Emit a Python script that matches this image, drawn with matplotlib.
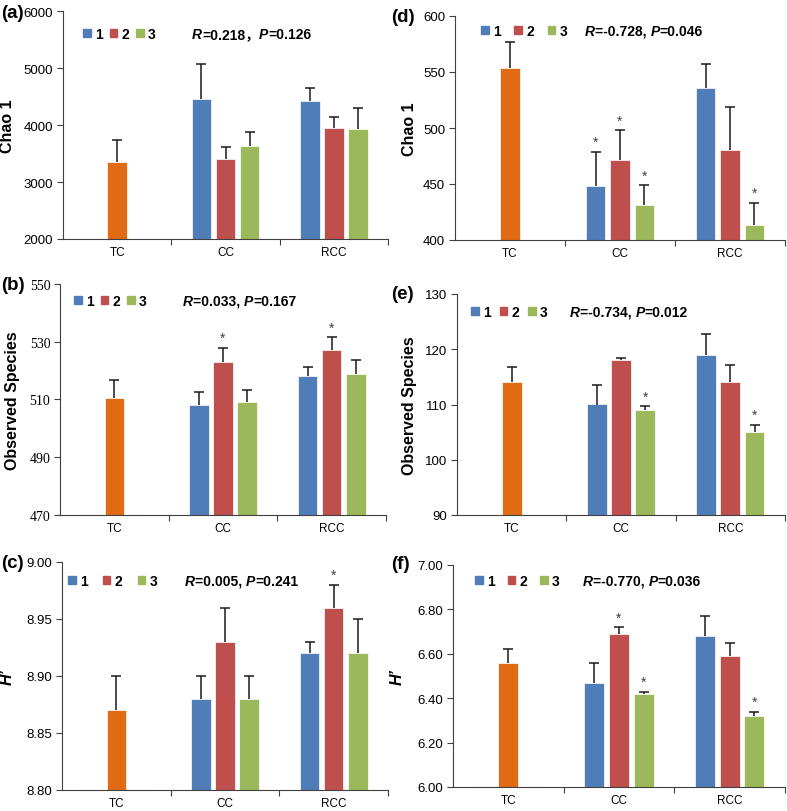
import matplotlib
matplotlib.use("Agg")
import matplotlib.pyplot as plt
from matplotlib.patches import Patch

W, H = 787, 812
BLUE = "#4F7DB8"
RED = "#BE4F4C"
GREEN = "#9BB85A"
ORANGE = "#E06B14"
SANS = "Liberation Sans"

categories = ["TC", "CC", "RCC"]

# (a) Chao 1, panel a
a_s1 = [None, 4450, 4425]
a_s2 = [3355, 3400, 3955]
a_s3 = [None, 3635, 3935]
a_e1 = [0, 615, 220]
a_e2 = [380, 215, 185]
a_e3 = [0, 250, 355]

# (d) Chao 1, panel d
d_s1 = [None, 448, 536]
d_s2 = [554, 471, 480]
d_s3 = [None, 431, 413]
d_e1 = [0, 31, 21]
d_e2 = [23, 27, 39]
d_e3 = [0, 18, 20]

# (b) Observed species
b_s1 = [470, 508, 518]
b_s2 = [510.5, 523, 527]
b_s3 = [470, 509, 519]
b_e1 = [0, 4.5, 3.2]
b_e2 = [6.2, 5, 4.5]
b_e3 = [0, 4.4, 4.7]

# (e) Observed species
e_s1 = [None, 110, 119]
e_s2 = [114, 118, 114]
e_s3 = [None, 109, 105]
e_e1 = [0, 3.6, 3.7]
e_e2 = [2.8, 0.5, 3.1]
e_e3 = [0, 0.7, 1.3]

# (c) H'
c_s1 = [8.80, 8.88, 8.92]
c_s2 = [8.87, 8.93, 8.96]
c_s3 = [8.80, 8.88, 8.92]
c_e1 = [0, 0.02, 0.01]
c_e2 = [0.03, 0.03, 0.02]
c_e3 = [0, 0.02, 0.03]

# (f) H'
f_s1 = [6.00, 6.47, 6.68]
f_s2 = [6.56, 6.69, 6.59]
f_s3 = [6.00, 6.42, 6.32]
f_e1 = [0, 0.09, 0.09]
f_e2 = [0.06, 0.03, 0.06]
f_e3 = [0, 0.01, 0.02]

panels = [
    dict(tag="(a)", ylabel="Chao 1", s=(a_s1, a_s2, a_s3), e=(a_e1, a_e2, a_e3),
         ylim=(2000, 6000), yticks=[2000, 3000, 4000, 5000, 6000], fmt="{:.0f}",
         stars=[], r="0.218", p="0.126", sep="\uff0c",
         box=(63, 12, 388, 240), lab=(1, 13), ylx=15, leg=(83, 35, 0.5), rp=(192, 35)),
    dict(tag="(b)", ylabel="Observed Species", s=(b_s1, b_s2, b_s3), e=(b_e1, b_e2, b_e3),
         ylim=(470, 550), yticks=[470, 490, 510, 530, 550], fmt="{:.0f}",
         stars=[(1, 1), (2, 1)], r="0.033", p="0.167", sep=", ",
         box=(60, 285, 386, 516), lab=(1, 286), ylx=20, leg=(74, 302, 0.5), rp=(183, 302),
         serif_ticks=True),
    dict(tag="(c)", ylabel="H\u2019", s=(c_s1, c_s2, c_s3), e=(c_e1, c_e2, c_e3),
         ylim=(8.80, 9.00), yticks=[8.80, 8.85, 8.90, 8.95, 9.00], fmt="{:.2f}",
         stars=[(2, 1)], r="0.005", p="0.241", sep=", ",
         box=(62, 563, 388, 791), lab=(1, 563), ylx=15, leg=(68, 582, 1.1), rp=(185, 582),
         italic_label=True),
    dict(tag="(d)", ylabel="Chao 1", s=(d_s1, d_s2, d_s3), e=(d_e1, d_e2, d_e3),
         ylim=(400, 600), yticks=[400, 450, 500, 550, 600], fmt="{:.0f}",
         stars=[(1, 0), (1, 1), (1, 2), (2, 2)], r="-0.728", p="0.046", sep=", ",
         box=(455, 17, 785, 241), lab=(391, 17), ylx=417, leg=(481, 32, 1.0), rp=(585, 32)),
    dict(tag="(e)", ylabel="Observed Species", s=(e_s1, e_s2, e_s3), e=(e_e1, e_e2, e_e3),
         ylim=(90, 130), yticks=[90, 100, 110, 120, 130], fmt="{:.0f}",
         stars=[(1, 2), (2, 2)], r="-0.734", p="0.012", sep=", ",
         box=(457, 295, 785, 516), lab=(391, 295), ylx=417, leg=(471, 313, 0.65), rp=(570, 313)),
    dict(tag="(f)", ylabel="H\u2019", s=(f_s1, f_s2, f_s3), e=(f_e1, f_e2, f_e3),
         ylim=(6.00, 7.00), yticks=[6.00, 6.20, 6.40, 6.60, 6.80, 7.00], fmt="{:.2f}",
         stars=[(1, 1), (1, 2), (2, 2)], r="-0.770", p="0.036", sep=", ",
         box=(453, 566, 785, 788), lab=(391, 565), ylx=405, leg=(475, 582, 0.95), rp=(583, 582),
         italic_label=True),
]

fig = plt.figure(figsize=(W / 100, H / 100), dpi=100)
plt.rcParams["font.family"] = [SANS, "DejaVu Sans"]

x = list(range(len(categories)))
off = 0.222
bw = 0.18


def fx(px):
    return px / W


def fy(py):
    return 1 - py / H


def chain_text(ax, x0, y0, pieces):
    prev = None
    for txt, style in pieces:
        kw = dict(fontsize=10, fontweight="bold", fontstyle=style,
                  family=[SANS, "Noto Sans CJK SC"])
        if prev is None:
            prev = ax.text(fx(x0), fy(y0), txt, transform=fig.transFigure,
                           ha="left", va="center", **kw)
        else:
            prev = ax.annotate(txt, xy=(1, 0), xycoords=prev, ha="left", va="bottom", **kw)


for pn in panels:
    l, t, r, b = pn["box"]
    ax = fig.add_axes([fx(l), fy(b), (r - l) / W, (b - t) / H])
    lo, hi = pn["ylim"]
    s1, s2, s3 = pn["s"]
    e1, e2, e3 = pn["e"]
    cols2 = [ORANGE, RED, RED]
    for k, (vals, errs, col, dx) in enumerate([(s1, e1, BLUE, -off), (s2, e2, RED, 0), (s3, e3, GREEN, off)]):
        for i, v in enumerate(vals):
            if v is None:
                continue
            c = cols2[i] if k == 1 else col
            xi = x[i] + dx
            if v <= lo:
                ax.bar(xi, 0, bottom=lo, width=bw, color=c, edgecolor=c, linewidth=0.8,
                       alpha=0.35, clip_on=False, zorder=1)
                continue
            ax.bar(xi, v - lo, bottom=lo, width=bw, color=c, edgecolor="white",
                   linewidth=0.5, zorder=2)
            if errs[i] > 0:
                ax.vlines(xi, v, v + errs[i], color="#1a1a1a", linewidth=1.1, zorder=3)
                ax.plot(xi, v + errs[i], marker="_", markersize=7, markeredgewidth=1.1,
                        color="#1a1a1a", zorder=3)
    for ci, si in pn["stars"]:
        vals = pn["s"][si]
        errs = pn["e"][si]
        xi = x[ci] + (si - 1) * off
        ax.annotate("*", xy=(xi, vals[ci] + errs[ci]), xytext=(0, 2), textcoords="offset points",
                    ha="center", va="bottom", fontsize=10, color="#404040")

    ax.set_xlim(-0.5, 2.5)
    ax.set_ylim(lo, hi)
    ax.set_yticks(pn["yticks"])
    ax.set_yticklabels([pn["fmt"].format(v) for v in pn["yticks"]],
                       family="Liberation Serif" if pn.get("serif_ticks") else SANS,
                       fontsize=10 if pn.get("serif_ticks") else 9.5)
    ax.set_xticks(x)
    ax.set_xticklabels(categories, fontsize=8.5)
    ax.set_xticks([0.5, 1.5, 2.5], minor=True)
    ax.tick_params(axis="x", which="major", length=0, pad=5)
    ax.tick_params(axis="x", which="minor", length=4, width=0.8, color="#404040")
    ax.tick_params(axis="y", length=4, width=0.8, color="#404040", pad=3)
    for sp in ["top", "right"]:
        ax.spines[sp].set_visible(False)
    for sp in ["left", "bottom"]:
        ax.spines[sp].set_color("#404040")
        ax.spines[sp].set_linewidth(0.8)
    ax.set_ylabel(pn["ylabel"], fontsize=11.5, fontweight="bold",
                  fontstyle="italic" if pn.get("italic_label") else "normal")
    ax.yaxis.set_label_coords((pn["ylx"] - l) / (r - l), 0.5)

    fig.text(fx(pn["lab"][0]), fy(pn["lab"][1]), pn["tag"], fontsize=13.5, fontweight="bold",
             ha="left", va="center")

    lx, ly, cs = pn["leg"]
    handles = [Patch(color=BLUE), Patch(color=RED), Patch(color=GREEN)]
    ax.legend(handles, ["1", "2", "3"], ncol=3, frameon=False, loc="center left",
              bbox_to_anchor=(fx(lx), fy(ly)), bbox_transform=fig.transFigure,
              borderpad=0, borderaxespad=0, handlelength=0.55, handleheight=0.5,
              handletextpad=0.3, columnspacing=cs,
              prop={"family": SANS, "weight": "bold", "size": 10})

    rx, ry = pn["rp"]
    chain_text(ax, rx, ry, [("R", "italic"), ("=" + pn["r"] + pn["sep"], "normal"),
                            ("P", "italic"), ("=" + pn["p"], "normal")])

fig.savefig("out.png", dpi=100)
